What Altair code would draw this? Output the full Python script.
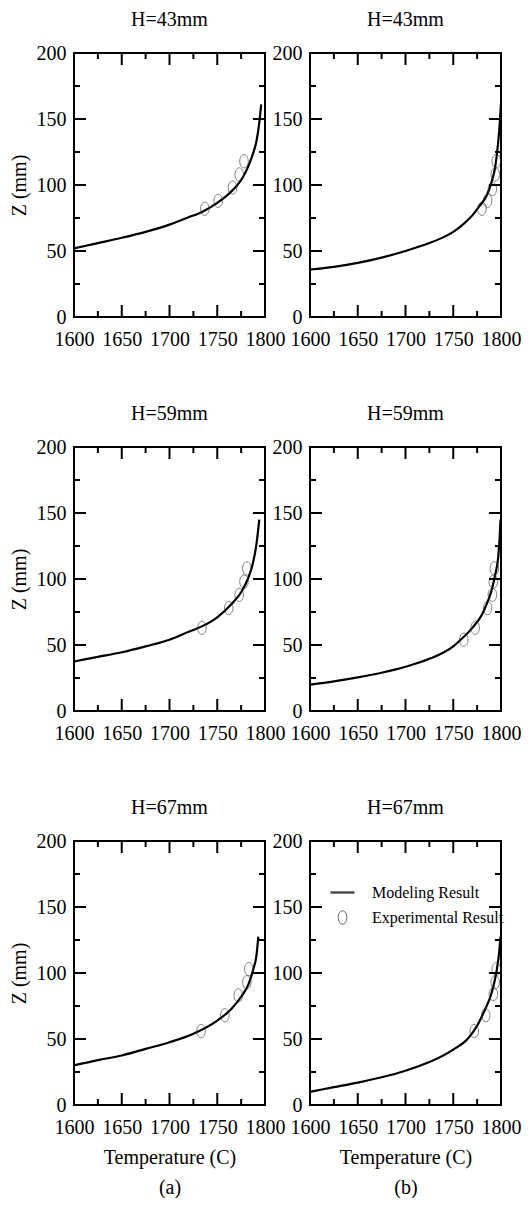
import altair as alt
import pandas as pd

FONT = "Liberation Serif"

panel_titles = ["H=43mm", "H=43mm", "H=59mm", "H=59mm", "H=67mm", "H=67mm"]
x_title_a = ["Temperature (C)", "(a)"]
x_title_b = ["Temperature (C)", "(b)"]
y_title = "Z (mm)"
legend_labels = ["Modeling Result", "Experimental Result"]

# ---- Panel 1 (H=43mm, a)
model_t_1 = [1600, 1625, 1650, 1675, 1700, 1720, 1735, 1750, 1760, 1770, 1777, 1783, 1788, 1791, 1794, 1796]
model_z_1 = [52, 56, 60, 64.5, 70, 75.5, 80, 86.5, 92, 99, 106, 115, 125, 133, 147, 161]
exp_t_1 = [1737, 1751, 1766, 1773, 1778]
exp_z_1 = [82, 88, 98, 108, 118]

# ---- Panel 2 (H=43mm, b)
model_t_2 = [1600, 1625, 1650, 1675, 1700, 1725, 1740, 1750, 1760, 1770, 1778, 1785, 1790, 1794, 1797, 1799, 1800]
model_z_2 = [36, 38, 41, 45, 50, 56, 60.5, 64.5, 70, 77, 84.5, 92, 102, 114, 132, 150, 162]
exp_t_2 = [1780, 1786, 1791, 1794, 1795]
exp_z_2 = [82, 88, 97, 108, 118]

# ---- Panel 3 (H=59mm, a)
model_t_3 = [1600, 1625, 1650, 1675, 1700, 1720, 1735, 1750, 1765, 1775, 1782, 1787, 1791, 1794]
model_z_3 = [37.5, 41, 44.5, 49, 54, 60, 64.5, 71, 81, 90, 100, 111, 126, 145]
exp_t_3 = [1734, 1762, 1773, 1778, 1781]
exp_z_3 = [63, 78, 88, 98, 108]

# ---- Panel 4 (H=59mm, b)
model_t_4 = [1600, 1625, 1650, 1675, 1700, 1725, 1750, 1760, 1770, 1780, 1785, 1790, 1794, 1797, 1798.5, 1799.5]
model_z_4 = [20, 22.5, 25.5, 29, 33.5, 39.5, 49, 55.5, 63, 73, 81, 91, 103.5, 116, 130, 145]
exp_t_4 = [1761, 1773, 1786, 1791, 1792, 1793]
exp_z_4 = [54, 63, 78, 88, 98, 108]

# ---- Panel 5 (H=67mm, a)
model_t_5 = [1600, 1625, 1650, 1675, 1700, 1725, 1750, 1765, 1775, 1783, 1788, 1791, 1793]
model_z_5 = [30, 34, 37.5, 42.5, 47.5, 54, 64, 73, 82, 92, 103.5, 113, 127.5]
exp_t_5 = [1733, 1758, 1772, 1781, 1783]
exp_z_5 = [56, 68, 83, 93, 103]

# ---- Panel 6 (H=67mm, b)
model_t_6 = [1600, 1625, 1650, 1675, 1700, 1725, 1750, 1765, 1775, 1783, 1790, 1795, 1798, 1799.5]
model_z_6 = [10, 13.5, 17, 21, 26, 32.5, 42, 50, 60, 72, 84.5, 100, 115, 127.5]
exp_t_6 = [1772, 1784, 1792, 1794, 1795]
exp_z_6 = [56, 68, 84, 93, 103]

x_labels = [1600, 1650, 1700, 1750, 1800]
x_major = [1650, 1700, 1750]
x_minor = [1625, 1675, 1725, 1775]
y_labels = [0, 50, 100, 150, 200]
y_major = [50, 100, 150]
y_minor = [25, 75, 125, 175]

W, H = 191, 264
MAJOR, MINOR = 12, 6

ELLIPSE = ("M0,-0.56C0.199,-0.56 0.36,-0.309 0.36,0C0.36,0.309 0.199,0.56 0,0.56"
           "C-0.199,0.56 -0.36,0.309 -0.36,0C-0.36,-0.309 -0.199,-0.56 0,-0.56Z")

xs = alt.Scale(domain=[1600, 1800], nice=False, zero=False)
ys = alt.Scale(domain=[0, 200], nice=False, zero=True)


def make_axes(show_y_title, x_title):
    x_lab = alt.Axis(orient="bottom", values=x_labels, format="d", ticks=False,
                     tickSize=0, domain=False, grid=False, labelPadding=12,
                     labelOverlap=False, labelFlush=False,
                     title=x_title if x_title else None,
                     titlePadding=10, titleLineHeight=30)
    y_lab = alt.Axis(orient="left", values=y_labels, format="d", ticks=False,
                     tickSize=0, domain=False, grid=False, labelPadding=8,
                     labelOverlap=False, labelFlush=False,
                     title=y_title if show_y_title else None, titlePadding=7)
    return x_lab, y_lab


def x_ticks(values, length):
    df = pd.DataFrame({"v": values})
    base = alt.Chart(df).mark_rule(color="black", strokeWidth=2)
    x = alt.X("v:Q", scale=xs, axis=None)
    bottom = base.encode(x=x, y=alt.value(H), y2=alt.value(H - length))
    top = base.encode(x=x, y=alt.value(0), y2=alt.value(length))
    return [bottom, top]


def y_ticks(values, length):
    df = pd.DataFrame({"v": values})
    base = alt.Chart(df).mark_rule(color="black", strokeWidth=2)
    y = alt.Y("v:Q", scale=ys, axis=None)
    left = base.encode(y=y, x=alt.value(0), x2=alt.value(length))
    right = base.encode(y=y, x=alt.value(W), x2=alt.value(W - length))
    return [left, right]


def panel(title, mt, mz, et, ez, show_y_title, x_title, with_legend):
    mdf = pd.DataFrame({"T": mt, "Z": mz})
    edf = pd.DataFrame({"T": et, "Z": ez, "kind": legend_labels[1]})
    x_lab, y_lab = make_axes(show_y_title, x_title)

    line = alt.Chart(mdf).mark_line(color="black", strokeWidth=2.2,
                                    interpolate="monotone").encode(
        x=alt.X("T:Q", scale=xs, axis=x_lab),
        y=alt.Y("Z:Q", scale=ys, axis=y_lab),
    )

    enc = dict(
        x=alt.X("T:Q", scale=xs, axis=None),
        y=alt.Y("Z:Q", scale=ys, axis=None),
    )
    if with_legend:
        leg = dict(orient="none", legendX=19, legendY=38, title=None,
                   labelFont=FONT, labelFontSize=16, labelColor="black",
                   labelOffset=16, symbolSize=576, symbolStrokeColor="black",
                   rowPadding=4, padding=0)
        enc["shape"] = alt.Shape("kind:N", scale=alt.Scale(domain=legend_labels, range=["stroke", ELLIPSE]),
                                 legend=alt.Legend(**leg))
        enc["strokeWidth"] = alt.StrokeWidth("kind:N", scale=alt.Scale(domain=legend_labels, range=[2.5, 0.9]),
                                             legend=alt.Legend(**leg))
        pts = alt.Chart(edf).mark_point(filled=False, color="#333", size=560).encode(**enc)
    else:
        pts = alt.Chart(edf).mark_point(filled=False, color="#333", size=560,
                                        shape=ELLIPSE, strokeWidth=0.9).encode(**enc)

    ticks = (x_ticks(x_major, MAJOR) + x_ticks(x_minor, MINOR)
             + y_ticks(y_major, MAJOR) + y_ticks(y_minor, MINOR))

    return alt.layer(line, pts, *ticks).resolve_axis(
        x="independent", y="independent"
    ).properties(
        width=W, height=H,
        title=alt.TitleParams(title, font=FONT, fontSize=20, fontWeight="normal",
                              color="black", anchor="middle", offset=13),
    )


p1 = panel(panel_titles[0], model_t_1, model_z_1, exp_t_1, exp_z_1, True, None, False)
p2 = panel(panel_titles[1], model_t_2, model_z_2, exp_t_2, exp_z_2, False, None, False)
p3 = panel(panel_titles[2], model_t_3, model_z_3, exp_t_3, exp_z_3, True, None, False)
p4 = panel(panel_titles[3], model_t_4, model_z_4, exp_t_4, exp_z_4, False, None, False)
p5 = panel(panel_titles[4], model_t_5, model_z_5, exp_t_5, exp_z_5, True, x_title_a, False)
p6 = panel(panel_titles[5], model_t_6, model_z_6, exp_t_6, exp_z_6, False, x_title_b, True)

rows = [alt.hconcat(a, b, spacing=-15).resolve_scale(shape="independent", strokeWidth="independent")
        for a, b in [(p1, p2), (p3, p4), (p5, p6)]]

chart = alt.vconcat(*rows, spacing=53).resolve_scale(
    shape="independent", strokeWidth="independent"
).properties(
    padding={"left": 0, "top": 1, "right": 0, "bottom": 0},
    background="white",
).configure_axis(
    labelFont=FONT, labelFontSize=20, labelColor="black",
    titleFont=FONT, titleFontSize=20, titleFontWeight="normal", titleColor="black",
).configure_view(
    stroke="black", strokeWidth=2,
)

chart.save("out.html", embed_options={"renderer": "svg", "actions": False})
